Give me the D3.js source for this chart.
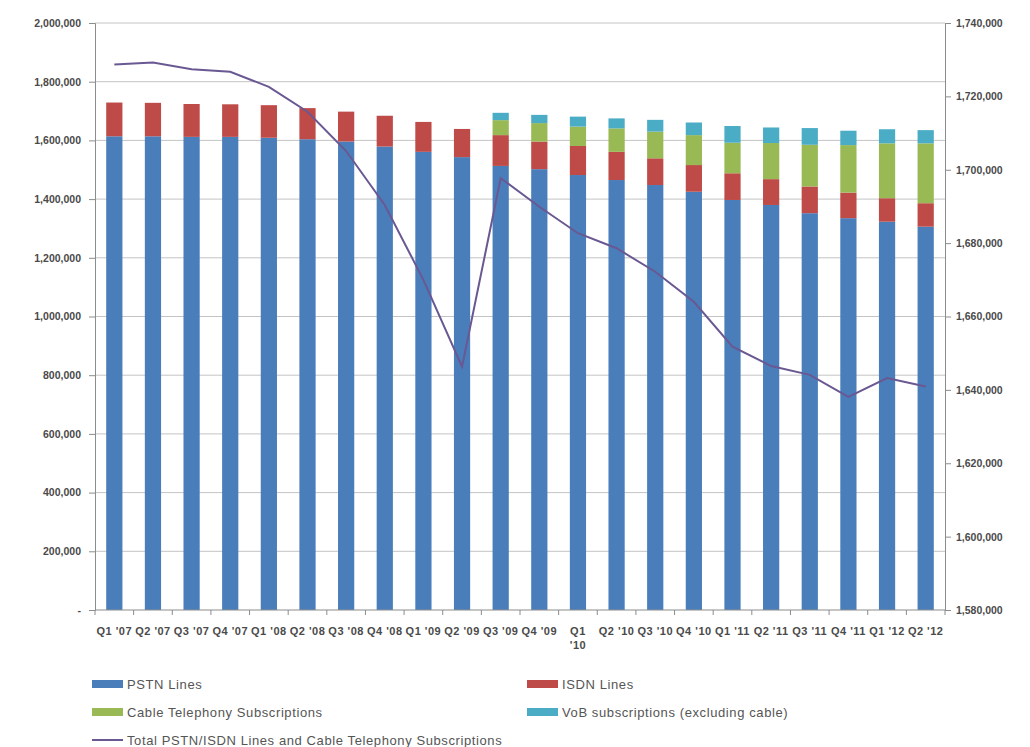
<!DOCTYPE html>
<html>
<head>
<meta charset="utf-8">
<script src="https://cdn.jsdelivr.net/npm/d3@7"></script>
<style>
  html, body { margin: 0; padding: 0; background: #ffffff; }
  svg { display: block; font-family: "Liberation Sans", Arial, sans-serif; }
</style>
</head>
<body>
<svg id="chart" width="1030" height="747"></svg>
<script>
// Quarterly categories
const categories = ["Q1 '07", "Q2 '07", "Q3 '07", "Q4 '07", "Q1 '08", "Q2 '08", "Q3 '08", "Q4 '08",
  "Q1 '09", "Q2 '09", "Q3 '09", "Q4 '09", "Q1 '10", "Q2 '10", "Q3 '10", "Q4 '10",
  "Q1 '11", "Q2 '11", "Q3 '11", "Q4 '11", "Q1 '12", "Q2 '12"];
// Labels Excel broke onto two lines
const wrappedLabels = ["Q1 '10"];

// Stacked series (left axis)
const pstnLines = [1614000, 1614000, 1612000, 1612000, 1609000, 1604000, 1596000, 1579000,
  1561000, 1543000, 1513000, 1502000, 1482000, 1465000, 1448000, 1425000,
  1397000, 1380000, 1352000, 1335000, 1323000, 1306000];
const isdnLines = [115000, 114000, 112000, 111000, 111000, 106000, 102000, 105000,
  102000, 96000, 105000, 94000, 99000, 96000, 91000, 91000,
  91000, 88000, 91000, 87000, 80000, 80000];
const cableTelephony = [0, 0, 0, 0, 0, 0, 0, 0,
  0, 0, 51000, 63000, 66000, 80000, 91000, 102000,
  104000, 123000, 142000, 162000, 187000, 204000];
const vobSubscriptions = [0, 0, 0, 0, 0, 0, 0, 0,
  0, 0, 25000, 28000, 34000, 34000, 40000, 43000,
  57000, 53000, 57000, 49000, 48000, 45000];

// Total line (right axis)
const totalLines = [1728700, 1729200, 1727400, 1726700, 1722600, 1715800, 1705100, 1690400,
  1670000, 1646300, 1697700, 1689900, 1682700, 1678600, 1672200, 1664000,
  1651800, 1646500, 1644100, 1638100, 1643200, 1640900];

// Axis ticks
const leftTicks = [0, 200000, 400000, 600000, 800000, 1000000, 1200000, 1400000, 1600000, 1800000, 2000000];
const rightTicks = [1580000, 1600000, 1620000, 1640000, 1660000, 1680000, 1700000, 1720000, 1740000];

const seriesNames = ["PSTN Lines", "ISDN Lines", "Cable Telephony Subscriptions", "VoB subscriptions (excluding cable)"];
const lineName = "Total PSTN/ISDN Lines and Cable Telephony Subscriptions";
const seriesColors = ["#4A7EBB", "#BE4B48", "#98B954", "#4BACC6"];
const lineColor = "#6A5892";

const svg = d3.select("#chart");
const plot = { left: 95, right: 945, top: 23, bottom: 610 };

const x = d3.scaleBand()
  .domain(categories)
  .range([plot.left, plot.right])
  .paddingInner(0.58)
  .paddingOuter(0.29);
const yL = d3.scaleLinear().domain([0, 2000000]).range([plot.bottom, plot.top]);
const yR = d3.scaleLinear().domain([1580000, 1740000]).range([plot.bottom, plot.top]);

const numFmt = d3.format(",");
const textColor = "#4a4a4a";
const axisColor = "#8c8c8c";

// Horizontal gridlines from the left axis
svg.append("g")
  .selectAll("line")
  .data(leftTicks.filter(d => d > 0))
  .join("line")
  .attr("x1", plot.left).attr("x2", plot.right)
  .attr("y1", d => yL(d)).attr("y2", d => yL(d))
  .attr("stroke", "#c4c4c4").attr("stroke-width", 1);

// Stacked bars
const table = categories.map((c, i) => ({
  cat: c,
  [seriesNames[0]]: pstnLines[i],
  [seriesNames[1]]: isdnLines[i],
  [seriesNames[2]]: cableTelephony[i],
  [seriesNames[3]]: vobSubscriptions[i]
}));
const stacked = d3.stack().keys(seriesNames)(table);

svg.append("g")
  .selectAll("g")
  .data(stacked)
  .join("g")
  .attr("fill", (d, i) => seriesColors[i])
  .selectAll("rect")
  .data(d => d)
  .join("rect")
  .attr("x", d => x(d.data.cat))
  .attr("width", x.bandwidth())
  .attr("y", d => yL(d[1]))
  .attr("height", d => yL(d[0]) - yL(d[1]));

// Left axis
const leftAxis = d3.axisLeft(yL)
  .tickValues(leftTicks)
  .tickSize(6)
  .tickPadding(8)
  .tickFormat(d => d === 0 ? "-" : numFmt(d));
const gL = svg.append("g").attr("transform", `translate(${plot.left},0)`).call(leftAxis);

// Right axis
const rightAxis = d3.axisRight(yR)
  .tickValues(rightTicks)
  .tickSize(6)
  .tickPadding(5)
  .tickFormat(numFmt);
const gR = svg.append("g").attr("transform", `translate(${plot.right},0)`).call(rightAxis);

[gL, gR].forEach(g => {
  g.select(".domain").attr("stroke", axisColor);
  g.selectAll(".tick line").attr("stroke", axisColor);
  g.selectAll(".tick text")
    .attr("fill", textColor)
    .attr("font-size", "10.5px")
    .attr("font-weight", "bold");
});

// Bottom axis: line, boundary ticks, category labels
const gB = svg.append("g").attr("transform", `translate(0,${plot.bottom})`);
gB.append("line")
  .attr("x1", plot.left).attr("x2", plot.right)
  .attr("stroke", axisColor);
const half = x.step() * x.paddingInner() / 2;
const boundaries = categories.map(c => x(c) - half).concat([x(categories[categories.length - 1]) + x.bandwidth() + half]);
gB.selectAll("line.tick")
  .data(boundaries)
  .join("line")
  .attr("class", "tick")
  .attr("x1", d => d).attr("x2", d => d)
  .attr("y1", 0).attr("y2", 5)
  .attr("stroke", axisColor);

const labels = gB.selectAll("text")
  .data(categories)
  .join("text")
  .attr("x", d => x(d) + x.bandwidth() / 2)
  .attr("y", 25)
  .attr("text-anchor", "middle")
  .attr("fill", textColor)
  .attr("font-size", "11px")
  .attr("font-weight", "bold")
  .attr("letter-spacing", "0.5px");
labels.each(function (d) {
  const t = d3.select(this);
  if (wrappedLabels.includes(d)) {
    const parts = d.split(" ");
    t.append("tspan").attr("x", x(d) + x.bandwidth() / 2).attr("dy", 0).text(parts[0]);
    t.append("tspan").attr("x", x(d) + x.bandwidth() / 2).attr("dy", 14).text(parts.slice(1).join(" "));
  } else {
    t.text(d);
  }
});

// Total line on the right axis
const line = d3.line()
  .x((d, i) => x(categories[i]) + x.bandwidth() / 2)
  .y(d => yR(d));
svg.append("path")
  .datum(totalLines)
  .attr("d", line)
  .attr("fill", "none")
  .attr("stroke", lineColor)
  .attr("stroke-width", 2);

// Legend
const legend = svg.append("g");
const legendItems = [
  { name: seriesNames[0], color: seriesColors[0], type: "rect", col: 0, row: 0 },
  { name: seriesNames[1], color: seriesColors[1], type: "rect", col: 1, row: 0 },
  { name: seriesNames[2], color: seriesColors[2], type: "rect", col: 0, row: 1 },
  { name: seriesNames[3], color: seriesColors[3], type: "rect", col: 1, row: 1 },
  { name: lineName, color: lineColor, type: "line", col: 0, row: 2 }
];
const colX = [92, 527];
const rowY = [684, 712, 740];
const item = legend.selectAll("g")
  .data(legendItems)
  .join("g")
  .attr("transform", d => `translate(${colX[d.col]},${rowY[d.row]})`);
item.filter(d => d.type === "rect").append("rect")
  .attr("x", 0).attr("y", -4).attr("width", 31).attr("height", 8)
  .attr("fill", d => d.color);
item.filter(d => d.type === "line").append("line")
  .attr("x1", 0).attr("x2", 31).attr("y1", 0).attr("y2", 0)
  .attr("stroke", d => d.color).attr("stroke-width", 2);
item.append("text")
  .attr("x", 35).attr("y", 4.5)
  .attr("fill", "#555555")
  .attr("font-size", "13px")
  .attr("letter-spacing", "0.6px")
  .text(d => d.name);
</script>
</body>
</html>
